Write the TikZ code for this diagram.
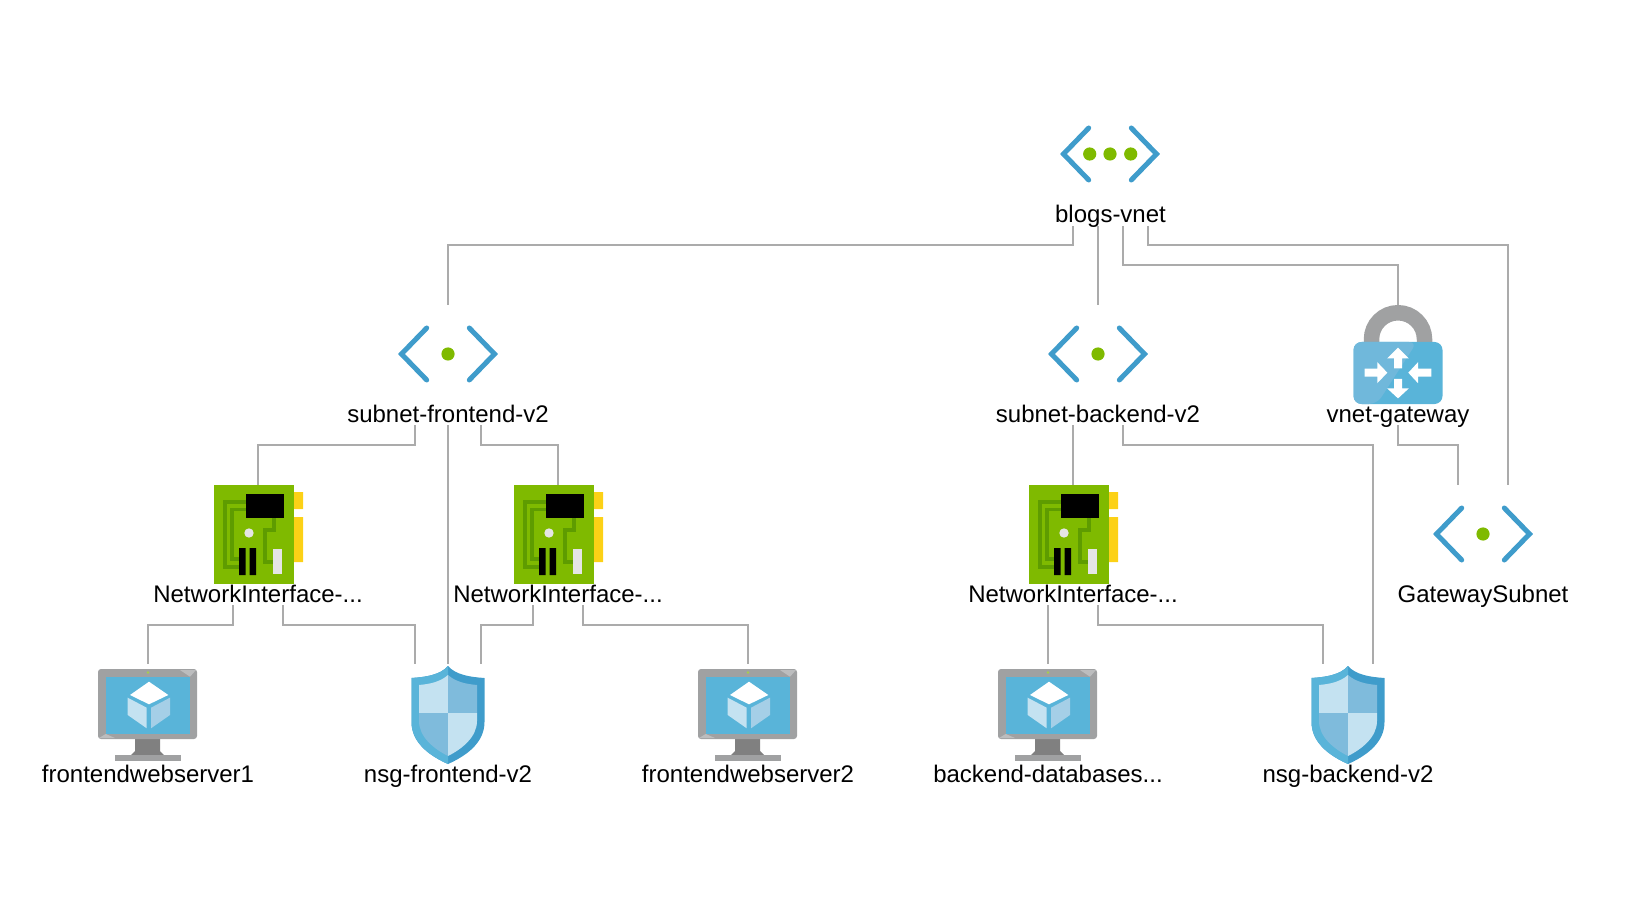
\documentclass[tikz,border=0pt]{standalone}
\usepackage{fontspec}
\setmainfont{Liberation Sans}
\definecolor{linegrey}{HTML}{ABABAB}
\definecolor{azure}{HTML}{3F9CCB}
\definecolor{azuresky}{HTML}{59B4D9}
\definecolor{azurepale}{HTML}{C4E2F1}
\definecolor{azuremid}{HTML}{7FBBDC}
\definecolor{leaf}{HTML}{7FBA00}
\definecolor{leafdark}{HTML}{5E9C00}
\definecolor{chipyellow}{HTML}{FCD116}
\definecolor{framegrey}{HTML}{A0A1A2}
\tikzset{
  iconbox/.style={inner sep=0pt,minimum width=98pt,minimum height=98pt},
  lbl/.style={font=\fontsize{24}{28}\selectfont,anchor=base,inner sep=0pt,text depth=3pt},
  link/.style={draw=linegrey,line width=1.8pt},
  chevrons/.pic={
    \draw[azure,line width=5pt,line cap=round] (-21.3,-26) -- (-46.5,0) -- (-21.3,26);
    \draw[azure,line width=5pt,line cap=round] (21.3,-26) -- (46.5,0) -- (21.3,26);
  },
  subneticon/.pic={
    \pic {chevrons};
    \fill[leaf] (0,0) circle (6.6);
  },
  vneticon/.pic={
    \pic {chevrons};
    \fill[leaf] (-20.3,0) circle (6.6) (0,0) circle (6.6) (20.7,0) circle (6.6);
  },
  nicicon/.pic={
    \fill[chipyellow] (36,-42) rectangle (45,-25) (36,-17) rectangle (45,28);
    \fill[leaf] (-44,-49) rectangle (36,50);
    \draw[leafdark,line width=3.6pt] (-12,-32) -| (-33,32.7) -- (-19,32.7);
    \draw[leafdark,line width=3.6pt] (-12,-24.7) -| (-26,25) -- (-19,25);
    \draw[leafdark,line width=3.6pt] (16,-16) |- (7,-4) |- (15,27.7);
    \fill[black] (-12,-40) rectangle (26,-16);
    \fill[black] (-19,14) rectangle (-12.3,41) (-8.3,14) rectangle (-2,41);
    \fill[white!90!black] (15,15) rectangle (24,40);
    \fill[white!90!black] (-9,-1) circle (4.7);
  },
  vmicon/.pic={
    \fill[gray] (-13,26) -- (12,26) -- (12,38) -- (16,42) -- (-17,42) -- (-13,38) -- cycle;
    \fill[framegrey] (-33,42) rectangle (33,48);
    \fill[framegrey,rounded corners=3pt] (-50,-44) rectangle (49,26);
    \fill[framegrey!70!white] (32,-43) -- (48,-43) -- (42,-36.3) -- cycle;
    \fill[framegrey!70!white] (-49,25) -- (-42.3,21) -- (-33,25) -- cycle;
    \fill[azuresky] (-42.3,-36.3) rectangle (42,21);
    \fill[leaf!70!white] (0,-40.5) circle (1.3);
    \fill[white] (1,-31.3) -- (20.3,-18) -- (1,-8.7) -- (-18,-18) -- cycle;
    \fill[azurepale] (-20.3,-15.3) -- (-1.3,-5.3) -- (-1.3,15.3) -- (-20.3,2) -- cycle;
    \fill[azuremid!70!white] (3,-5.3) -- (22,-15.3) -- (22,2) -- (3,15.3) -- cycle;
  },
  nsgicon/.pic={
    \fill[azure] (0,-47) .. controls (-8,-38) and (-22,-36) .. (-36.5,-35) -- (-36.5,9)
      .. controls (-36.5,30) and (-18,43) .. (0,51)
      .. controls (18,43) and (36.5,30) .. (36.5,9) -- (36.5,-35)
      .. controls (22,-36) and (8,-38) .. (0,-47) -- cycle;
    \fill[azuresky] (0,-47) .. controls (-8,-38) and (-22,-36) .. (-36.5,-35) -- (-36.5,9)
      .. controls (-36.5,30) and (-18,43) .. (0,51) -- cycle;
    \fill[azurepale] (0,-38) .. controls (-8,-31) and (-18,-29) .. (-29,-28) -- (-29,0) -- (0,0) -- cycle;
    \fill[azuremid] (0,-38) .. controls (8,-31) and (18,-29) .. (29,-28) -- (29,0) -- (0,0) -- cycle;
    \fill[azuremid] (-29,0) -- (0,0) -- (0,43) .. controls (-14,36) and (-29,24) .. (-29,8) -- cycle;
    \fill[azurepale] (29,0) -- (0,0) -- (0,43) .. controls (14,36) and (29,24) .. (29,8) -- cycle;
  },
  gatewayicon/.pic={
    \draw[framegrey,line width=15.5pt] (-26.5,-8) -- (-26.5,-14.75) arc[start angle=180,end angle=360,radius=26.5] -- (26.5,-8);
    \fill[azuresky,rounded corners=8pt] (-44.5,-12) rectangle (44.5,50);
    \fill[azuremid!60!azuresky,rounded corners=8pt] (-44.5,-12) -- (19,-12) -- (-21,50) -- (-44.5,50) -- cycle;
    \begin{scope}[shift={(0,18.7)}]
      \fill[white] (0,-25) -- (10.8,-14.3) -- (4,-14.3) -- (4,-4.3) -- (-4,-4.3) -- (-4,-14.3) -- (-10.8,-14.3) -- cycle;
      \fill[white] (0,25.7) -- (10.8,15.7) -- (4,15.7) -- (4,6.3) -- (-4,6.3) -- (-4,15.7) -- (-10.8,15.7) -- cycle;
      \fill[white] (10.3,0) -- (20,-10.5) -- (20,-4) -- (33.3,-4) -- (33.3,4) -- (20,4) -- (20,10.5) -- cycle;
      \fill[white] (-10.7,0) -- (-20.7,-10.5) -- (-20.7,-4) -- (-33.3,-4) -- (-33.3,4) -- (-20.7,4) -- (-20.7,10.5) -- cycle;
    \end{scope}
  },
}

\begin{document}
\begin{tikzpicture}[x=1pt,y=-1pt]
  \useasboundingbox (0,0) rectangle (1634,917);
  % icons
  \node[iconbox] (vnet) at (1110,154) {};
  \node[iconbox] (subfront) at (448,354) {};
  \node[iconbox] (subback) at (1098,354) {};
  \node[iconbox] (gateway) at (1398,354) {};
  \node[iconbox] (gatesub) at (1483,534) {};
  \node[iconbox] (nicA) at (258,534) {};
  \node[iconbox] (nicB) at (558,534) {};
  \node[iconbox] (nicC) at (1073,534) {};
  \node[iconbox] (vmA) at (148,713) {};
  \node[iconbox] (nsgfront) at (448,713) {};
  \node[iconbox] (vmB) at (748,713) {};
  \node[iconbox] (vmC) at (1048,713) {};
  \node[iconbox] (nsgback) at (1348,713) {};
  \pic at (vnet) {vneticon};
  \pic at (subfront) {subneticon};
  \pic at (subback) {subneticon};
  \pic at (gateway) {gatewayicon};
  \pic at (gatesub) {subneticon};
  \pic at (nicA) {nicicon};
  \pic at (nicB) {nicicon};
  \pic at (nicC) {nicicon};
  \pic at (vmA) {vmicon};
  \pic at (nsgfront) {nsgicon};
  \pic at (vmB) {vmicon};
  \pic at (vmC) {vmicon};
  \pic at (nsgback) {nsgicon};
  % labels
  \node[lbl] (lblvnet) at (1110.5,223) {blogs-vnet};
  \node[lbl] (lblsubfront) at (448,422) {subnet-frontend-v2};
  \node[lbl] (lblsubback) at (1098,422) {subnet-backend-v2};
  \node[lbl] (lblgateway) at (1398,422) {vnet-gateway};
  \node[lbl] (lblgatesub) at (1483,602) {GatewaySubnet};
  \node[lbl] (lblnicA) at (258,602) {NetworkInterface-...};
  \node[lbl] (lblnicB) at (558,602) {NetworkInterface-...};
  \node[lbl] (lblnicC) at (1073,602) {NetworkInterface-...};
  \node[lbl] (lblvmA) at (148,782) {frontendwebserver1};
  \node[lbl] (lblnsgfront) at (448,782) {nsg-frontend-v2};
  \node[lbl] (lblvmB) at (748,782) {frontendwebserver2};
  \node[lbl] (lblvmC) at (1048,782) {backend-databases...};
  \node[lbl] (lblnsgback) at (1348,782) {nsg-backend-v2};
  % links
  \draw[link] ([xshift=-37.5pt]lblvnet.south) -- ++(0,19) -| (subfront.north);
  \draw[link] ([xshift=-12.5pt]lblvnet.south) -- (subback.north);
  \draw[link] ([xshift=12.5pt]lblvnet.south) -- ++(0,39) -| (gateway.north);
  \draw[link] ([xshift=37.5pt]lblvnet.south) -- ++(0,19) -| ([xshift=25pt]gatesub.north);
  \draw[link] ([xshift=-33pt]lblsubfront.south) -- ++(0,20) -| (nicA.north);
  \draw[link] (lblsubfront.south) -- (nsgfront.north);
  \draw[link] ([xshift=33pt]lblsubfront.south) -- ++(0,20) -| (nicB.north);
  \draw[link] ([xshift=-25pt]lblsubback.south) -- (nicC.north);
  \draw[link] ([xshift=25pt]lblsubback.south) -- ++(0,20) -| ([xshift=25pt]nsgback.north);
  \draw[link] (lblgateway.south) -- ++(0,20) -| ([xshift=-25pt]gatesub.north);
  \draw[link] ([xshift=-25pt]lblnicA.south) -- ++(0,20) -| (vmA.north);
  \draw[link] ([xshift=25pt]lblnicA.south) -- ++(0,20) -| ([xshift=-33pt]nsgfront.north);
  \draw[link] ([xshift=-25pt]lblnicB.south) -- ++(0,20) -| ([xshift=33pt]nsgfront.north);
  \draw[link] ([xshift=25pt]lblnicB.south) -- ++(0,20) -| (vmB.north);
  \draw[link] ([xshift=-25pt]lblnicC.south) -- (vmC.north);
  \draw[link] ([xshift=25pt]lblnicC.south) -- ++(0,20) -| ([xshift=-25pt]nsgback.north);
\end{tikzpicture}
\end{document}
